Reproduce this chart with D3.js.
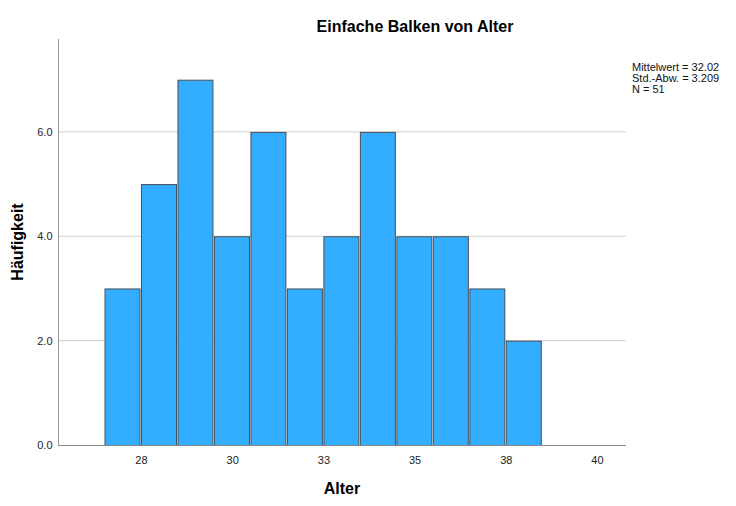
<!DOCTYPE html>
<html>
<head>
<meta charset="utf-8">
<script src="https://cdn.jsdelivr.net/npm/d3@7"></script>
<style>
    body { margin: 0; background: #fff; }
    text { font-family: "Liberation Sans", Arial, sans-serif; }
</style>
</head>
<body>
<script>
(function(){

    //histogram data: bin start, bin end and count per bin
    var binStarts = [26.5, 27.5, 28.5, 29.5, 30.5, 31.5, 32.5, 33.5, 34.5, 35.5, 36.5, 37.5];
    var binEnds   = [27.5, 28.5, 29.5, 30.5, 31.5, 32.5, 33.5, 34.5, 35.5, 36.5, 37.5, 38.5];
    var counts    = [3, 5, 7, 4, 6, 3, 4, 6, 4, 4, 3, 2];

    //axis ticks
    var xTickValues = [27.5, 30, 32.5, 35, 37.5, 40];
    var xTickLabels = ["28", "30", "33", "35", "38", "40"];
    var yTickValues = [0, 2, 4, 6];

    //summary statistics shown on the right
    var statLines = ["Mittelwert = 32.02", "Std.-Abw. = 3.209", "N = 51"];

    var width = 736,
        height = 506;

    //plot frame
    var left = 58, right = 626, top = 39, bottom = 445;

    var svg = d3.select("body")
        .append("svg")
        .attr("width", width)
        .attr("height", height);

    var x = d3.scaleLinear()
        .domain([25.225, 40.795])
        .range([left, right]);

    var y = d3.scaleLinear()
        .domain([0, 7.78])
        .range([bottom, top]);

    //horizontal grid lines
    svg.selectAll(".grid")
        .data(yTickValues.filter(function(d){ return d > 0; }))
        .enter()
        .append("line")
        .attr("class", "grid")
        .attr("x1", left)
        .attr("x2", right)
        .attr("y1", function(d){ return y(d); })
        .attr("y2", function(d){ return y(d); })
        .style("stroke", "#cfcfcf")
        .style("stroke-width", 1);

    //bars
    var bins = counts.map(function(c, i){
        return { x0: binStarts[i], x1: binEnds[i], n: c };
    });

    svg.selectAll(".bar")
        .data(bins)
        .enter()
        .append("rect")
        .attr("class", "bar")
        .attr("x", function(d){ return x(d.x0) + 0.5; })
        .attr("width", function(d){ return x(d.x1) - x(d.x0) - 1.5; })
        .attr("y", function(d){ return y(d.n) + 0.5; })
        .attr("height", function(d){ return y(0) - y(d.n); })
        .style("fill", "#33adff")
        .style("stroke", "#4b4f54")
        .style("stroke-width", 1);

    //y axis
    var yAxis = svg.append("g")
        .attr("transform", "translate(" + (left + 0.5) + ",0)")
        .call(d3.axisLeft(y)
            .tickValues(yTickValues)
            .tickSize(0)
            .tickPadding(6)
            .tickFormat(d3.format(".1f")));
    yAxis.select(".domain")
        .attr("d", "M0," + top + "V" + bottom)
        .style("stroke", "#999");
    yAxis.selectAll("text")
        .style("font-size", "11px")
        .style("fill", "#222");

    //x axis
    var xAxis = svg.append("g")
        .attr("transform", "translate(0," + (bottom + 0.5) + ")")
        .call(d3.axisBottom(x)
            .tickValues(xTickValues)
            .tickSize(0)
            .tickPadding(11)
            .tickFormat(function(d, i){ return xTickLabels[i]; }));
    xAxis.select(".domain")
        .attr("d", "M" + left + ",0H" + right)
        .style("stroke", "#8a8a8a");
    xAxis.selectAll("text")
        .style("font-size", "11px")
        .style("fill", "#222");

    //title
    svg.append("text")
        .attr("x", 415)
        .attr("y", 32)
        .attr("text-anchor", "middle")
        .style("font-size", "16px")
        .style("font-weight", "bold")
        .text("Einfache Balken von Alter");

    //axis titles
    svg.append("text")
        .attr("x", (left + right) / 2)
        .attr("y", 494)
        .attr("text-anchor", "middle")
        .style("font-size", "16px")
        .style("font-weight", "bold")
        .text("Alter");

    svg.append("text")
        .attr("transform", "translate(23," + ((top + bottom) / 2) + ") rotate(-90)")
        .attr("text-anchor", "middle")
        .style("font-size", "16px")
        .style("font-weight", "bold")
        .text("Häufigkeit");

    //statistics box
    svg.selectAll(".stat")
        .data(statLines)
        .enter()
        .append("text")
        .attr("class", "stat")
        .attr("x", 632)
        .attr("y", function(d, i){ return 71 + i * 11; })
        .style("font-size", "11px")
        .style("fill", "#111")
        .text(function(d){ return d; });

})();
</script>
</body>
</html>
